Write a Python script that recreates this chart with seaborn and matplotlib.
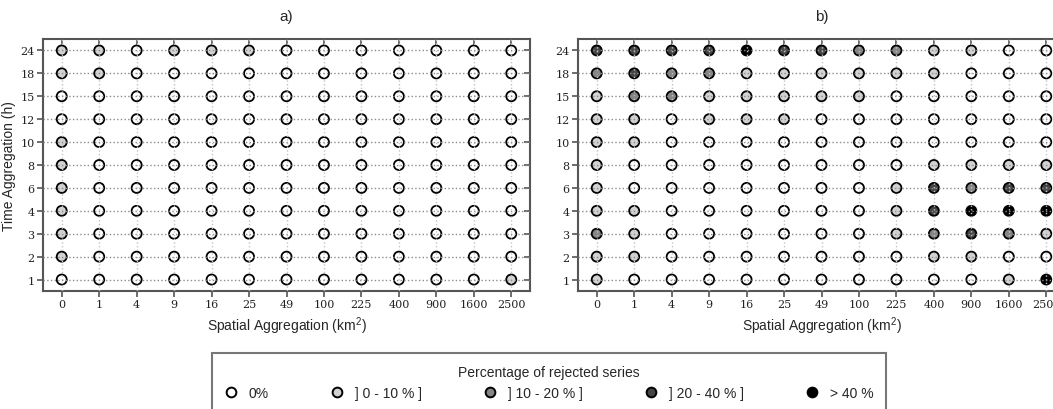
import numpy as np
import pandas as pd
import seaborn as sns
import matplotlib
matplotlib.use("Agg")
import matplotlib.pyplot as plt
from matplotlib.lines import Line2D

# ---------------- data ----------------
x_labels = ["0", "1", "4", "9", "16", "25", "49", "100", "225", "400", "900", "1600", "2500"]
y_labels = ["1", "2", "3", "4", "6", "8", "10", "12", "15", "18", "24"]  # bottom -> top

class_labels = ["0%", "] 0 - 10 % ]", "] 10 - 20 % ]", "] 20 - 40 % ]", "> 40 %"]
class_colors = ["#ffffff", "#d3d3d3", "#858585", "#444444", "#000000"]

# rows listed top (24 h) -> bottom (1 h); class index 0..4
panel_a_rows = [
    [1, 1, 0, 1, 1, 1, 0, 0, 0, 0, 0, 0, 0],  # 24
    [1, 1, 0, 0, 0, 0, 0, 0, 0, 0, 0, 0, 0],  # 18
    [0, 0, 0, 0, 0, 0, 0, 0, 0, 0, 0, 0, 0],  # 15
    [0, 0, 0, 0, 0, 0, 0, 0, 0, 0, 0, 0, 0],  # 12
    [1, 0, 0, 0, 0, 0, 0, 0, 0, 0, 0, 0, 0],  # 10
    [1, 0, 0, 0, 0, 0, 0, 0, 0, 0, 0, 0, 0],  # 8
    [1, 0, 0, 0, 0, 0, 0, 0, 0, 0, 0, 0, 0],  # 6
    [1, 0, 0, 0, 0, 0, 0, 0, 0, 0, 0, 0, 0],  # 4
    [1, 0, 0, 0, 0, 0, 0, 0, 0, 0, 0, 0, 0],  # 3
    [1, 0, 0, 0, 0, 0, 0, 0, 0, 0, 0, 0, 0],  # 2
    [0, 0, 0, 0, 0, 0, 0, 0, 0, 0, 0, 0, 1],  # 1
]

panel_b_rows = [
    [3, 3, 3, 3, 4, 3, 3, 2, 2, 1, 1, 0, 0],  # 24
    [2, 3, 2, 2, 1, 1, 1, 1, 1, 1, 0, 0, 0],  # 18
    [1, 2, 2, 1, 1, 1, 1, 1, 0, 0, 0, 0, 0],  # 15
    [1, 1, 0, 1, 1, 1, 0, 0, 0, 0, 0, 0, 0],  # 12
    [1, 1, 0, 0, 0, 0, 0, 0, 0, 0, 0, 0, 0],  # 10
    [1, 0, 0, 0, 0, 0, 0, 0, 0, 1, 1, 1, 1],  # 8
    [1, 0, 0, 0, 0, 0, 0, 0, 1, 3, 2, 3, 3],  # 6
    [1, 1, 0, 0, 0, 0, 0, 0, 1, 3, 4, 4, 4],  # 4
    [2, 1, 0, 0, 0, 0, 0, 0, 1, 2, 3, 2, 1],  # 3
    [1, 1, 0, 0, 0, 0, 0, 0, 0, 1, 1, 0, 0],  # 2
    [1, 0, 0, 0, 0, 0, 0, 0, 0, 0, 0, 1, 4],  # 1
]

panel_titles = ["a)", "b)"]
x_title = "Spatial Aggregation (km$^2$)"
y_title = "Time Aggregation (h)"
legend_title = "Percentage of rejected series"

# ---------------- style ----------------
sns.set_theme(style="white")
plt.rcParams["font.family"] = ["Liberation Sans", "DejaVu Sans"]
plt.rcParams["mathtext.default"] = "regular"

SPINE = "#555555"
palette = dict(zip(class_labels, class_colors))


def to_frame(rows):
    recs = []
    for r, row in enumerate(rows[::-1]):
        for c, v in enumerate(row):
            recs.append({"xi": c, "yi": r, "cls": class_labels[v]})
    return pd.DataFrame(recs)


fig = plt.figure(figsize=(10.53, 4.10), dpi=100)
W, H = 1053.0, 410.0
ax_w = 487 / W
ax_h = (292 - 40) / H
ax_b = 1 - 292 / H
axes = [fig.add_axes([43 / W, ax_b, ax_w, ax_h]),
        fig.add_axes([578 / W, ax_b, ax_w, ax_h])]

for ax, rows, title in zip(axes, [panel_a_rows, panel_b_rows], panel_titles):
    df = to_frame(rows)
    sns.scatterplot(data=df, x="xi", y="yi", hue="cls", hue_order=class_labels,
                    palette=palette, s=52, edgecolor="black", linewidth=1.3,
                    legend=False, ax=ax, zorder=1)
    ax.set_xlim(-0.5, len(x_labels) - 0.5)
    ax.set_ylim(-0.5, len(y_labels) - 0.5)
    ax.set_xticks(range(len(x_labels)))
    ax.set_xticklabels(x_labels)
    ax.set_yticks(range(len(y_labels)))
    ax.set_yticklabels(y_labels)
    for lab in ax.get_xticklabels() + ax.get_yticklabels():
        lab.set_fontfamily("DejaVu Serif")
        lab.set_fontsize(8)
        lab.set_color("#222222")
    ax.tick_params(axis="both", direction="out", length=4, width=1.2,
                   color=SPINE, pad=2, bottom=True, left=True)
    # inward ticks on top / right
    sx = ax.secondary_xaxis("top")
    sx.set_xticks(range(len(x_labels)))
    sx.tick_params(direction="in", length=4, width=1.2, color=SPINE, labeltop=False)
    sy = ax.secondary_yaxis("right")
    sy.set_yticks(range(len(y_labels)))
    sy.tick_params(direction="in", length=4, width=1.2, color=SPINE, labelright=False)
    for s in (sx, sy):
        for sp in s.spines.values():
            sp.set_visible(False)
    ax.set_axisbelow(False)
    ax.xaxis.grid(True, linestyle=":", color="#c4c4c4", linewidth=1.0)
    ax.yaxis.grid(True, linestyle=":", color="#8c8c8c", linewidth=1.0)
    for sp in ax.spines.values():
        sp.set_color(SPINE)
        sp.set_linewidth(1.5)
    ax.set_xlabel(x_title, fontsize=10, labelpad=4)
    ax.set_title(title, fontsize=11, pad=14)

axes[0].set_ylabel(y_title, fontsize=10)
axes[0].yaxis.set_label_coords((16 - 43) / 487, 0.5)
axes[1].set_ylabel("")

handles = [Line2D([0], [0], marker="o", linestyle="", markersize=7,
                  markerfacecolor=c, markeredgecolor="black", markeredgewidth=1.4)
           for c in class_colors]
leg = fig.legend(handles, class_labels, loc="upper center",
                 bbox_to_anchor=(549 / W, 1 - 354 / H), ncol=5,
                 title=legend_title, fontsize=10, title_fontsize=10,
                 frameon=True, fancybox=False, edgecolor=SPINE,
                 columnspacing=4.4, handletextpad=0.8, handlelength=1.0,
                 borderpad=0.85, borderaxespad=0)
leg.get_frame().set_linewidth(1.5)

fig.savefig("out.png", dpi=100)
